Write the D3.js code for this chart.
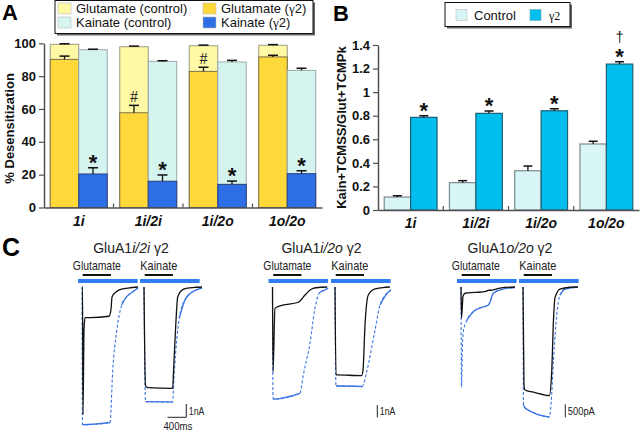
<!DOCTYPE html>
<html><head><meta charset="utf-8">
<script src="https://cdn.jsdelivr.net/npm/d3@7"></script>
<style>body{margin:0;background:#fff}svg{display:block;font-family:"Liberation Sans",Arial,sans-serif}</style>
</head><body><svg id="c" width="640" height="432"></svg>
<script>
// ---------- DATA ----------
const groups = ["1i", "1i/2i", "1i/2o", "1o/2o"];
const desensTicks = [0, 20, 40, 60, 80, 100];
const gluControl = [99.4, 97.9, 98.5, 98.8];
const gluControlErr = [0.3, 0.4, 0.4, 0.4];
const gluG2 = [90.2, 57.7, 82.9, 91.7];
const gluG2Err = [2.0, 4.5, 2.5, 1.0];
const kaiControl = [96.1, 89.0, 88.6, 83.5];
const kaiControlErr = [0.3, 0.4, 1.0, 1.3];
const kaiG2 = [20.4, 16.0, 14.1, 20.6];
const kaiG2Err = [3.8, 3.8, 2.0, 1.8];
const gluG2Marks = ["", "#", "#", ""];
const kaiG2Marks = ["*", "*", "*", "*"];

const ratioTicks = ["0", "0.2", "0.4", "0.6", "0.8", "1", "1.2", "1.4"];
const ratioControl = [0.11, 0.232, 0.333, 0.56];
const ratioControlErr = [0.011, 0.017, 0.04, 0.023];
const ratioG2 = [0.786, 0.82, 0.842, 1.238];
const ratioG2Err = [0.014, 0.02, 0.017, 0.02];
const ratioG2Marks = ["*", "*", "*", "*"];
const ratioG2Daggers = ["", "", "", "†"];

// Panel C traces: [time ms, current nA]
const traceTitles = ["i/2i", "i/2o", "o/2o"];
const scaleBarNA = [1, 1, 0.5];
const scaleBarLabels = ["1nA", "1nA", "500pA"];
const timeBarMs = 400;
const timeBarLabel = "400ms";
const agonistWindow = [15, 620];
const solutionWindow = [-85, 1190];

const c1GluBlack = [[0,0],[11,0],[21,-9.6],[43,-3.2],[64,-2.3],[171,-2.3],[578,-2.2],[620,-1.7],[642,-0.75],[727,-0.38],[813,-0.19],[984,-0.08],[1198,0]];
const c1GluBlue  = [[0,0],[11,-10.3],[21,-10.35],[599,-10.2],[657,-6.3],[742,-3.3],[849,-1.35],[956,-0.73],[1091,-0.35],[1198,-0.08]];
const c1KaiBlack = [[0,0],[32,-7.44],[79,-7.56],[614,-7.62],[631,-6.39],[674,-3.23],[721,-0.75],[791,-0.3],[898,-0.11],[1112,-0.02],[1241,0]];
const c1KaiBlue  = [[0,0],[32,-8.62],[64,-8.62],[610,-8.65],[648,-6.39],[755,-2.33],[898,-0.83],[1112,-0.23],[1241,-0.08]];

const c2GluBlack = [[0,0],[11,-6.91],[53,-1.74],[160,-1.54],[552,-1.24],[588,-1.14],[695,-0.65],[838,-0.16],[973,-0.04],[1166,0]];
const c2GluBlue  = [[0,0],[11,-9.11],[21,-9.11],[588,-8.64],[659,-7.15],[802,-4.55],[909,-1.71],[1016,-0.41],[1159,-0.16],[1187,-0.08]];
const c2KaiBlack = [[0,0],[21,-7.15],[43,-7.15],[571,-7.2],[599,-6.75],[642,-3.09],[712,-0.65],[856,-0.16],[1070,-0.02],[1176,0]];
const c2KaiBlue  = [[0,0],[21,-8.05],[43,-8.05],[584,-8.09],[678,-6.89],[856,-3.5],[963,-1.46],[1140,-0.41],[1198,-0.24]];

const c3GluBlack = [[0,0],[11,-1.19],[43,-0.35],[86,-0.24],[299,-0.21],[535,-0.17],[578,-0.13],[663,-0.12],[834,-0.04],[1155,0]];
const c3GluBlue  = [[0,0],[11,-3.85],[32,-2.23],[49,-1.72],[128,-1.27],[263,-0.95],[443,-0.78],[584,-0.69],[620,-0.58],[691,-0.24],[905,-0.08],[1155,-0.02]];
const c3KaiBlack = [[0,0],[21,-3.77],[43,-3.96],[257,-4.06],[563,-4.18],[614,-3.26],[652,-1.27],[684,-0.42],[791,-0.08],[1005,-0.01],[1176,0]];
const c3KaiBlue  = [[0,0],[11,-4.54],[32,-4.62],[107,-4.73],[220,-4.83],[385,-4.94],[563,-5.0],[599,-4.54],[652,-2.81],[721,-1.08],[791,-0.31],[898,-0.08],[1176,0]];

// ---------- STYLE / LAYOUT ----------
const FONT = '"Liberation Sans", Arial, sans-serif';
const col = {
  gluCtl: "#FFF8A4", gluG2: "#FFD83A", kaiCtl: "#D5F4F0", kaiG2: "#2F6FE6",
  bCtl: "#D9F6F7", bG2: "#00BEEE", axis: "#505050", blue: "#3a74e2", solBar: "#2F7DF2"
};
const svg = d3.select("#c");

function errBar(g, cx, yTop, yVal, capW) {
  g.append("line").attr("x1", cx).attr("x2", cx).attr("y1", yVal).attr("y2", yTop).attr("stroke", "#111").attr("stroke-width", 1.3);
  g.append("line").attr("x1", cx - capW / 2).attr("x2", cx + capW / 2).attr("y1", yTop).attr("y2", yTop).attr("stroke", "#111").attr("stroke-width", 1.5);
}
function styleAxis(ax) {
  ax.attr("font-family", FONT).attr("font-size", 13).attr("font-weight", "bold");
  ax.select(".domain").attr("stroke", col.axis).attr("stroke-width", 1.5);
  ax.selectAll(".tick line").attr("stroke", col.axis).attr("stroke-width", 1.2);
  ax.selectAll(".tick text").attr("fill", "#111");
}
function legendBox(x, y, w, h) {
  svg.append("rect").attr("x", x + 2).attr("y", y + 2).attr("width", w).attr("height", h).attr("fill", "#666");
  svg.append("rect").attr("x", x).attr("y", y).attr("width", w).attr("height", h).attr("fill", "#fff").attr("stroke", "#111").attr("stroke-width", 1);
}
function legendItem(x, y, fill, label, gamma) {
  svg.append("rect").attr("x", x).attr("y", y).attr("width", 13).attr("height", 11).attr("fill", fill).attr("stroke", "#bbb").attr("stroke-width", 0.6);
  const t = svg.append("text").attr("x", x + 18).attr("y", y + 10).attr("font-family", FONT).attr("font-size", 13).attr("fill", "#111").text(label);
  if (gamma) {
    t.append("tspan").text("(");
    t.append("tspan").attr("font-family", '"Liberation Serif", serif').text("γ");
    t.append("tspan").text("2)");
  }
}
function star(g, cx, errTop) {
  g.append("text").attr("x", cx).attr("y", errTop + 2).attr("text-anchor", "middle")
    .attr("font-family", FONT).attr("font-size", 22).attr("font-weight", "bold").attr("fill", "#111").text("*");
}

// ---------- PANEL A ----------
svg.append("text").attr("x", 2).attr("y", 20).attr("font-family", FONT).attr("font-size", 22).attr("font-weight", "bold").text("A");
const xA = d3.scaleBand().domain(groups).range([44, 322]).paddingInner(0.18).paddingOuter(0.09);
const subA = d3.scaleBand().domain(["glu", "kai"]).range([0, xA.bandwidth()]);
const yA = d3.scaleLinear().domain([0, 100]).range([207.5, 43.3]);
const gA = svg.append("g");
function barsA(vals, errs, key, fill, stroke) {
  groups.forEach((gname, i) => {
    const x0 = xA(gname) + subA(key);
    gA.append("rect").attr("x", x0).attr("y", yA(vals[i])).attr("width", subA.bandwidth()).attr("height", yA(0) - yA(vals[i]))
      .attr("fill", fill).attr("stroke", stroke).attr("stroke-width", 1);
    errBar(gA, x0 + subA.bandwidth() / 2, yA(vals[i] + errs[i]), yA(vals[i]), 10);
  });
}
barsA(gluControl, gluControlErr, "glu", col.gluCtl, "#9c9a80");
barsA(gluG2, gluG2Err, "glu", col.gluG2, "#7d7350");
barsA(kaiControl, kaiControlErr, "kai", col.kaiCtl, "#9aa8a8");
barsA(kaiG2, kaiG2Err, "kai", col.kaiG2, "#2a3f7a");
groups.forEach((gname, i) => {
  const cg = xA(gname) + subA("glu") + subA.bandwidth() / 2;
  const ck = xA(gname) + subA("kai") + subA.bandwidth() / 2;
  if (gluG2Marks[i]) gA.append("text").attr("x", cg).attr("y", yA(gluG2[i] + gluG2Err[i]) - 3).attr("text-anchor", "middle")
    .attr("font-family", '"Liberation Serif", serif').attr("font-size", 16).attr("fill", "#222").text(gluG2Marks[i]);
  if (kaiG2Marks[i]) star(gA, ck, yA(kaiG2[i] + kaiG2Err[i]));
});
const axA = svg.append("g").attr("transform", "translate(44,0)")
  .call(d3.axisLeft(yA).tickValues(desensTicks).tickSize(5).tickSizeOuter(0).tickPadding(3));
styleAxis(axA);
const xAxA = svg.append("g").attr("transform", `translate(0,${yA(0)})`).call(d3.axisBottom(xA).tickSize(0).tickSizeOuter(0).tickPadding(5));
styleAxis(xAxA);
xAxA.selectAll(".tick text").attr("font-style", "italic").attr("font-size", 14).attr("dy", "0.95em");
groups.slice(1).forEach(gname => {
  const bx = xA(gname) - xA.step() * xA.paddingInner() / 2;
  svg.append("line").attr("x1", bx).attr("x2", bx).attr("y1", yA(0)).attr("y2", yA(0) - 4).attr("stroke", col.axis).attr("stroke-width", 1.2);
});
svg.append("text").attr("transform", `translate(14,${(yA(0) + yA(100)) / 2 + 3}) rotate(-90)`).attr("text-anchor", "middle")
  .attr("font-family", FONT).attr("font-size", 13).attr("font-weight", "bold").attr("fill", "#111").text("% Desensitization");
legendBox(55, 0.5, 258, 33);
legendItem(58, 3, col.gluCtl, "Glutamate (control)");
legendItem(203, 3, col.gluG2, "Glutamate ", true);
legendItem(58, 17, col.kaiCtl, "Kainate (control)");
legendItem(203, 17, col.kaiG2, "Kainate ", true);

// ---------- PANEL B ----------
svg.append("text").attr("x", 333).attr("y", 21).attr("font-family", FONT).attr("font-size", 22).attr("font-weight", "bold").text("B");
const xB = d3.scaleBand().domain(groups).range([378, 639]).paddingInner(0.19).paddingOuter(0.095);
const subB = d3.scaleBand().domain(["ctl", "g2"]).range([0, xB.bandwidth()]);
const yB = d3.scaleLinear().domain([0, 1.4]).range([210, 45]);
const gB = svg.append("g");
function barsB(vals, errs, key, fill, stroke) {
  groups.forEach((gname, i) => {
    const x0 = xB(gname) + subB(key);
    gB.append("rect").attr("x", x0).attr("y", yB(vals[i])).attr("width", subB.bandwidth()).attr("height", yB(0) - yB(vals[i]))
      .attr("fill", fill).attr("stroke", stroke).attr("stroke-width", 1.2);
    errBar(gB, x0 + subB.bandwidth() / 2, yB(vals[i] + errs[i]), yB(vals[i]), 9);
  });
}
barsB(ratioControl, ratioControlErr, "ctl", col.bCtl, "#7a8a8c");
barsB(ratioG2, ratioG2Err, "g2", col.bG2, "#1d5f74");
groups.forEach((gname, i) => {
  const c = xB(gname) + subB("g2") + subB.bandwidth() / 2;
  const top = yB(ratioG2[i] + ratioG2Err[i]);
  if (ratioG2Marks[i]) star(gB, c, top);
  if (ratioG2Daggers[i]) gB.append("text").attr("x", c).attr("y", top - 20).attr("text-anchor", "middle")
    .attr("font-family", FONT).attr("font-size", 14).attr("fill", "#111").text(ratioG2Daggers[i]);
});
const axB = svg.append("g").attr("transform", "translate(378,0)")
  .call(d3.axisLeft(yB).tickValues(ratioTicks.map(Number)).tickFormat((d, i) => ratioTicks[i]).tickSize(5).tickSizeOuter(0).tickPadding(3));
styleAxis(axB);
const xAxB = svg.append("g").attr("transform", `translate(0,${yB(0)})`).call(d3.axisBottom(xB).tickSize(0).tickSizeOuter(0).tickPadding(5));
styleAxis(xAxB);
xAxB.selectAll(".tick text").attr("font-style", "italic").attr("font-size", 14).attr("dy", "0.95em");
groups.slice(1).forEach(gname => {
  const bx = xB(gname) - xB.step() * xB.paddingInner() / 2;
  svg.append("line").attr("x1", bx).attr("x2", bx).attr("y1", yB(0)).attr("y2", yB(0) - 4).attr("stroke", col.axis).attr("stroke-width", 1.2);
});
svg.append("text").attr("transform", `translate(346,${(yB(0) + yB(1.4)) / 2}) rotate(-90)`).attr("text-anchor", "middle")
  .attr("font-family", FONT).attr("font-size", 13).attr("font-weight", "bold").attr("fill", "#111").text("Kain+TCMSS/Glut+TCMPk");
legendBox(445, 2.5, 125, 24);
svg.append("rect").attr("x", 456).attr("y", 9.5).attr("width", 11).attr("height", 11).attr("fill", col.bCtl).attr("stroke", "#bbb").attr("stroke-width", 0.6);
svg.append("text").attr("x", 474).attr("y", 20).attr("font-family", FONT).attr("font-size", 13).attr("fill", "#111").text("Control");
svg.append("rect").attr("x", 530).attr("y", 9.5).attr("width", 11).attr("height", 11).attr("fill", col.bG2).attr("stroke", "#7aa").attr("stroke-width", 0.6);
svg.append("text").attr("x", 549).attr("y", 20).attr("font-family", '"Liberation Serif", serif').attr("font-size", 12).attr("fill", "#111").text("γ2");

// ---------- PANEL C ----------
svg.append("text").attr("x", 2).attr("y", 256).attr("font-family", FONT).attr("font-size", 25).attr("font-weight", "bold").text("C");
const panelsC = [
  { glu: [c1GluBlack, c1GluBlue], kai: [c1KaiBlack, c1KaiBlue] },
  { glu: [c2GluBlack, c2GluBlue], kai: [c2KaiBlack, c2KaiBlue] },
  { glu: [c3GluBlack, c3GluBlue], kai: [c3KaiBlack, c3KaiBlue] }
];
const sweepStarts = [[82, 144], [272.5, 335], [461, 523]];
const pxPerNA = [13.3, 12.3, 26];
const pxPerMs = 18.7 / 400;
const baseY = 287;

function drawSweep(start, k, traces, agonistName, showScale) {
  const x = d3.scaleLinear().domain([0, 400]).range([start, start + 400 * pxPerMs]);
  const y = d3.scaleLinear().domain([0, -1]).range([baseY, baseY + pxPerNA[k]]);
  svg.append("rect").attr("x", x(solutionWindow[0])).attr("y", 279).attr("width", x(solutionWindow[1]) - x(solutionWindow[0])).attr("height", 4).attr("fill", col.solBar);
  svg.append("rect").attr("x", x(agonistWindow[0])).attr("y", 274).attr("width", x(agonistWindow[1]) - x(agonistWindow[0])).attr("height", 2).attr("fill", "#111");
  svg.append("text").attr("x", x((agonistWindow[0] + agonistWindow[1]) / 2)).attr("y", 270).attr("text-anchor", "middle")
    .attr("font-family", FONT).attr("font-size", 13).attr("fill", "#222")
    .attr("textLength", agonistName === "Glutamate" ? 48 : 37).attr("lengthAdjust", "spacingAndGlyphs").text(agonistName);
  const line = d3.line().x(d => x(d[0])).y(d => y(d[1])).curve(d3.curveMonotoneX);
  const [black, blue] = traces;
  svg.append("path").attr("d", line(blue)).attr("fill", "none").attr("stroke", col.blue).attr("stroke-width", 1.1).attr("stroke-dasharray", "3,2");
  let run = [];
  const runs = [];
  for (let i = 1; i < blue.length; i++) {
    const dx = x(blue[i][0]) - x(blue[i - 1][0]), dy = y(blue[i][1]) - y(blue[i - 1][1]);
    if (Math.abs(dy / dx) < 3) { if (!run.length) run.push(blue[i - 1]); run.push(blue[i]); }
    else { if (run.length) runs.push(run); run = []; }
  }
  if (run.length) runs.push(run);
  runs.forEach(r => svg.append("path").attr("d", line(r)).attr("fill", "none").attr("stroke", col.blue).attr("stroke-width", 1.3));
  svg.append("path").attr("d", line(black)).attr("fill", "none").attr("stroke", "#111").attr("stroke-width", 1.3);
  if (showScale) {
    const sx = x(905), sy = 417.3;
    const barLen = y(-scaleBarNA[k]) - y(0);
    svg.append("line").attr("x1", sx).attr("x2", sx).attr("y1", sy).attr("y2", sy - barLen).attr("stroke", "#222").attr("stroke-width", 1);
    svg.append("text").attr("x", sx + 2.5).attr("y", 415).attr("font-family", FONT).attr("font-size", 11).attr("fill", "#222")
      .attr("textLength", scaleBarLabels[k] === "1nA" ? 15.5 : 27).attr("lengthAdjust", "spacingAndGlyphs").text(scaleBarLabels[k]);
    if (k === 0) {
      svg.append("line").attr("x1", sx - timeBarMs * pxPerMs).attr("x2", sx).attr("y1", sy).attr("y2", sy).attr("stroke", "#222").attr("stroke-width", 1);
      svg.append("text").attr("x", sx - timeBarMs * pxPerMs / 2 + 1).attr("y", 430).attr("text-anchor", "middle").attr("font-family", FONT)
        .attr("font-size", 11).attr("fill", "#222").attr("textLength", 29).attr("lengthAdjust", "spacingAndGlyphs").text(timeBarLabel);
    }
  }
}
panelsC.forEach((p, k) => {
  const [gs, ks] = sweepStarts[k];
  const title = svg.append("text").attr("x", gs + 49).attr("y", 253).attr("text-anchor", "middle").attr("font-family", FONT).attr("font-size", 14).attr("fill", "#222");
  title.append("tspan").text("GluA1");
  title.append("tspan").attr("font-style", "italic").text(traceTitles[k]);
  title.append("tspan").text(" γ2");
  drawSweep(gs, k, p.glu, "Glutamate", false);
  drawSweep(ks, k, p.kai, "Kainate", true);
});
</script></body></html>
